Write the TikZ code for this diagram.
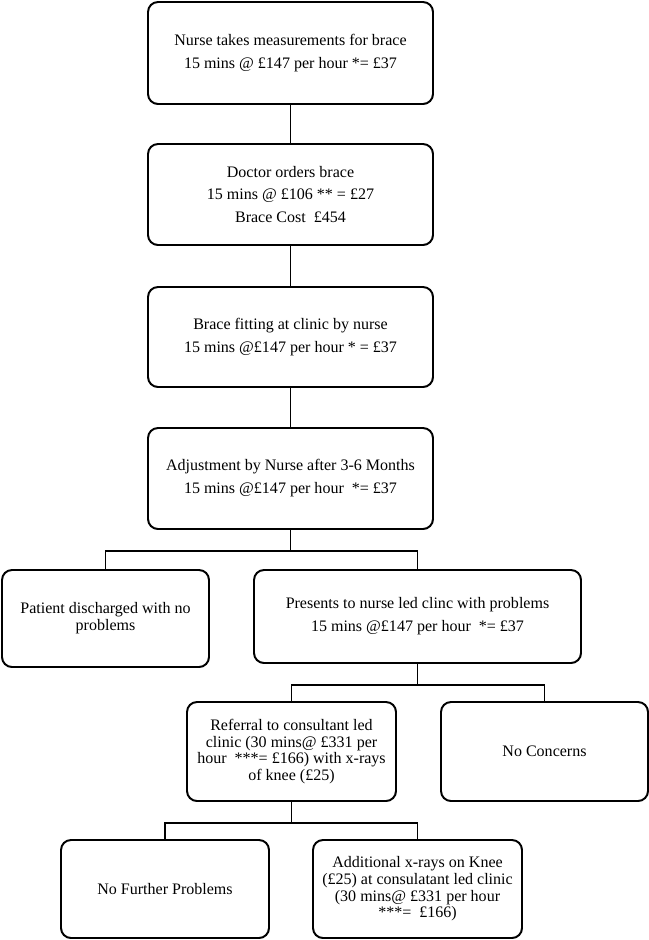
\documentclass[tikz,border=0pt]{standalone}
\usepackage{fontspec}
\setmainfont{Liberation Serif}
\usepackage{tikz}
\usetikzlibrary{positioning}
\usetikzlibrary{calc}
\tikzstyle{stepbox}=[rectangle,draw=black,line width=1.4pt,rounded corners=2.5mm,align=center,inner sep=2pt]
\tikzstyle{loose}=[font=\fontsize{11.4}{16.3}\selectfont]
\tikzstyle{tight}=[font=\fontsize{11.4}{11.9}\selectfont]
\tikzstyle{link} = [draw,line width=1.2pt]

\begin{document}
\begin{tikzpicture}[x=0.25mm,y=-0.25mm]
    \useasboundingbox (0,0) rectangle (649,940);
    % First we draw the boxes
    \foreach \pos/\name/\sty/\w/\h/\txt in {
        {(290.5,53)/measure/loose/285/102/{Nurse takes measurements for brace\\15 mins @ £147 per hour *= £37}},
        {(290.5,194.5)/order/loose/285/101/{Doctor orders brace\\15 mins @ £106 ** = £27\\Brace Cost~~£454}},
        {(290.5,337)/fitting/loose/285/100/{Brace fitting at clinic by nurse\\15 mins @£147 per hour * = £37}},
        {(290.5,478.5)/adjust/loose/285/101/{Adjustment by Nurse after 3-6 Months\\15 mins @£147 per hour~~*= £37}},
        {(105.5,618.5)/discharged/tight/207/97/{Patient discharged with no\\problems}},
        {(417.5,616.5)/presents/loose/327/93/{Presents to nurse led clinc with problems\\15 mins @£147 per hour~~*= £37}},
        {(291.5,751.5)/referral/tight/209/99/{Referral to consultant led\\clinic (30 mins@ £331 per\\hour~~***= £166) with x-rays\\of knee (£25)}},
        {(544.5,751.5)/noconcern/tight/207/99/{No Concerns}},
        {(165,889)/nofurther/tight/208/98/{No~Further Problems}},
        {(417.5,889)/additional/tight/209/98/{Additional x-rays on Knee\\(£25) at consulatant led clinic\\(30 mins@~£331 per hour\\***=~~£166)}}}
        \node[stepbox,\sty,minimum width=\w*0.25mm,minimum height=\h*0.25mm] (\name) at \pos {\txt};

    % Connect boxes with lines
    \foreach \source/\dest in {measure/order, order/fitting, fitting/adjust}
        \path[link] (\source) -- (\dest);

    % Then the branches
    \foreach \source/\dest in {adjust/discharged, adjust/presents, presents/referral, presents/noconcern, referral/nofurther, referral/additional}
        \path[link] (\source.south) -- ++(0,21) -| (\dest.north);

\end{tikzpicture}
\end{document}
